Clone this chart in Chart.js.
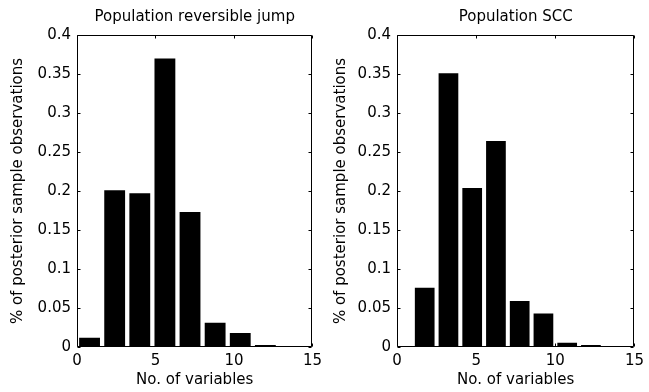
<!DOCTYPE html>
<html>
<head>
<meta charset="utf-8">
<script src="https://cdn.jsdelivr.net/npm/chart.js@4"></script>
<style>
  body { margin: 0; background: #fff; }
  canvas { position: absolute; top: 0; }
</style>
</head>
<body>
<canvas id="links" width="327" height="392" style="left:0"></canvas>
<canvas id="rechts" width="322" height="392" style="left:327px"></canvas>
<script>
// bin centres and heights
const rjMitten = [0.8, 2.4, 4.0, 5.6, 7.2, 8.8, 10.4, 12.0, 13.6, 15.2];
const rjWerte = [0.012, 0.201, 0.197, 0.370, 0.173, 0.031, 0.018, 0.0026, 0.001, 0.0005];
const sccMitten = [1.75, 3.25, 4.75, 6.25, 7.75, 9.25, 10.75, 12.25, 13.75, 15.25];
const sccWerte = [0.076, 0.351, 0.204, 0.264, 0.059, 0.043, 0.0056, 0.0026, 0.001, 0.0004];
const xTicks = [0, 5, 10, 15];
const yTicks = [0, 0.05, 0.1, 0.15, 0.2, 0.25, 0.3, 0.35, 0.4];

const titelLinks = "Population reversible jump";
const titelRechts = "Population SCC";
const xTitel = "No. of variables";
const yTitel = "% of posterior sample observations";

const schrift = { family: "DejaVu Sans", size: 15 };

// matlab style box with ticks pointing inwards
const rahmen = {
  id: "rahmen",
  afterDatasetsDraw(chart) {
    const ctx = chart.ctx;
    const a = chart.chartArea;
    const x = chart.scales.x, y = chart.scales.y;
    const l = Math.round(a.left) + 0.5, r = Math.round(a.right) - 0.5;
    const o = Math.round(a.top) + 0.5, u = Math.round(a.bottom) - 0.5;
    ctx.save();
    ctx.strokeStyle = "#000";
    ctx.lineWidth = 1;
    ctx.beginPath();
    ctx.rect(l, o, r - l, u - o);
    xTicks.forEach(v => {
      const px = Math.round(x.getPixelForValue(v)) + 0.5;
      ctx.moveTo(px, u); ctx.lineTo(px, u - 3);
      ctx.moveTo(px, o); ctx.lineTo(px, o + 3);
    });
    yTicks.forEach(v => {
      const py = Math.round(y.getPixelForValue(v)) + 0.5;
      ctx.moveTo(l, py); ctx.lineTo(l + 3, py);
      ctx.moveTo(r, py); ctx.lineTo(r - 3, py);
    });
    ctx.stroke();
    ctx.restore();
  }
};

function histogramm(id, mitten, werte, titel, yBreite, yTitelAbstand) {
  new Chart(document.getElementById(id), {
    type: "bar",
    data: {
      datasets: [{
        data: mitten.map((m, i) => ({ x: m, y: werte[i] })),
        backgroundColor: "#000",
        borderWidth: 0,
        barPercentage: 0.83,
        categoryPercentage: 1
      }]
    },
    options: {
      responsive: false,
      animation: false,
      devicePixelRatio: 1,
      layout: { padding: { left: 0, right: 11, top: 0, bottom: 0 } },
      plugins: {
        legend: { display: false },
        tooltip: { enabled: false },
        title: {
          display: true,
          text: titel,
          color: "#000",
          fullSize: false,
          font: { family: schrift.family, size: 15, weight: "normal" },
          padding: { top: 8, bottom: 9 }
        }
      },
      scales: {
        x: {
          type: "linear",
          min: 0,
          max: 15,
          offset: false,
          afterBuildTicks: s => { s.ticks = xTicks.map(v => ({ value: v })); },
          afterFit: s => { s.height = 45; },
          ticks: { color: "#000", font: schrift, padding: 5, maxRotation: 0 },
          grid: { display: false, drawTicks: false, offset: false },
          border: { display: false },
          title: { display: true, text: xTitel, color: "#000", font: schrift, padding: { top: 0, bottom: 3 } }
        },
        y: {
          min: 0,
          max: 0.4,
          afterBuildTicks: s => { s.ticks = yTicks.map(v => ({ value: v })); },
          afterFit: s => { s.width = yBreite; },
          ticks: { color: "#000", font: schrift, padding: 6, callback: v => String(+v.toFixed(2)) },
          grid: { display: false, drawTicks: false },
          border: { display: false },
          title: { display: true, text: yTitel, color: "#000", font: schrift, padding: { top: yTitelAbstand, bottom: 0 } }
        }
      }
    },
    plugins: [rahmen]
  });
}

histogramm("links", rjMitten, rjWerte, titelLinks, 77, 9);
histogramm("rechts", sccMitten, sccWerte, titelRechts, 70, 5);
</script>
</body>
</html>
